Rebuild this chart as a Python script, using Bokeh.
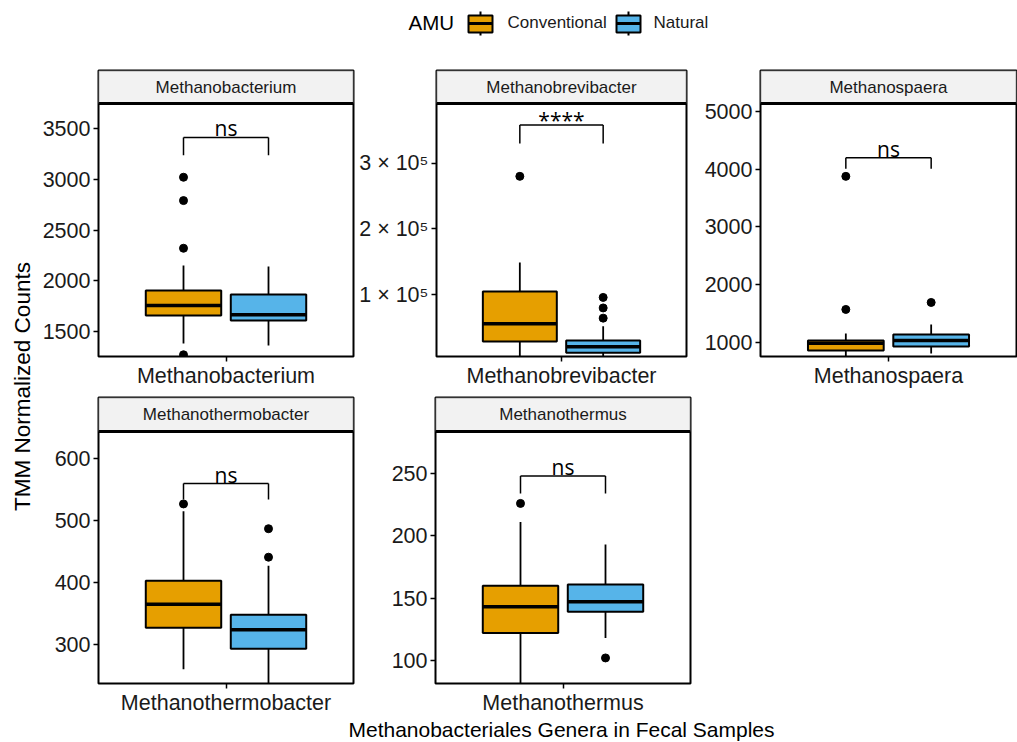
import math
from bokeh.plotting import figure
from bokeh.models import (FactorRange, Range1d, FixedTicker, BoxAnnotation, Span,
                          ColumnDataSource)
from bokeh.transform import dodge
from bokeh.layouts import column, row
from bokeh.embed import file_html
from bokeh.resources import INLINE
from bokeh.core.properties import value

# ---------------- data ----------------
genera = ["Methanobacterium", "Methanobrevibacter", "Methanospaera",
          "Methanothermobacter", "Methanothermus"]
groups = ["Conventional", "Natural"]

# box statistics: lower whisker, Q1, median, Q3, upper whisker
conv_low = [1382, 5000, 750, 260, 80]
conv_q1 = [1658, 29000, 860, 327, 122]
conv_med = [1756, 56000, 985, 365, 143]
conv_q3 = [1904, 105000, 1035, 403, 160]
conv_high = [2151, 149000, 1156, 515, 211]

nat_low = [1362, 6000, 809, 235, 118]
nat_q1 = [1608, 12000, 931, 293, 139]
nat_med = [1665, 21000, 1035, 324, 147]
nat_q3 = [1865, 30500, 1139, 348, 161]
nat_high = [2141, 52000, 1312, 427, 193]

conv_outliers = [[3020, 2790, 2320, 1270], [280000], [3877, 1572], [527], [226]]
nat_outliers = [[], [96000, 80000, 64500], [1693], [487, 441], [102]]

sig_labels = ["ns", "****", "ns", "ns", "ns"]
bracket_y = [3413, 358000, 4200, 560, 248]
bracket_leg_y = [3236, 330000, 4010, 534, 234]

y_lims = [(1253, 3747), (6200, 390700), (757, 5139), (237, 644), (81.5, 283.7)]
y_ticks = [[1500, 2000, 2500, 3000, 3500],
           [100000, 200000, 300000],
           [1000, 2000, 3000, 4000, 5000],
           [300, 400, 500, 600],
           [100, 150, 200, 250]]
y_tick_labels = [None, ["1 × 10⁵", "2 × 10⁵", "3 × 10⁵"], None, None, None]

y_title = "TMM Normalized Counts"
x_title = "Methanobacteriales Genera in Fecal Samples"
legend_title = "AMU"

# ---------------- styling ----------------
COLORS = {"Conventional": "#E69F00", "Natural": "#56B4E9"}
FONT = "Liberation Sans"
SIG_FONT = "Open Sans"
FONT_V = value(FONT)
SIG_FONT_V = value(SIG_FONT)
OFFSET = {"Conventional": -0.2, "Natural": 0.2}
BOX_W = 0.355
SIG_DY = {"ns": -9, "****": -5}
TICK_FS = "21.5px"


def blank(w, h):
    p = figure(width=w, height=h, x_range=Range1d(0, w), y_range=Range1d(0, h),
               x_axis_type=None, y_axis_type=None, title=None,
               toolbar_location=None, output_backend="svg", min_border=0)
    p.grid.visible = False
    p.outline_line_color = None
    p.background_fill_color = "white"
    p.border_fill_color = "white"
    return p


def panel(i, bl, fw, br, bt, bb, strip_px, data_px):
    lo, hi = y_lims[i]
    top = hi + (hi - lo) * strip_px / data_px
    xr = FactorRange(factors=[genera[i]], range_padding=0.1,
                     range_padding_units="absolute")
    p = figure(x_range=xr, y_range=Range1d(lo, top), frame_width=fw,
               frame_height=strip_px + data_px, min_border_left=bl,
               min_border_right=br, min_border_top=bt, min_border_bottom=bb,
               title=None, toolbar_location=None, output_backend="svg")
    p.grid.visible = False
    p.outline_line_color = "black"
    p.outline_line_width = 2
    p.outline_line_alpha = 1
    p.background_fill_color = "white"
    p.border_fill_color = "white"

    # facet strip
    p.add_layout(BoxAnnotation(bottom=hi, fill_color="#F2F2F2", fill_alpha=1,
                               line_color="black", line_width=2, level="underlay"))
    p.add_layout(Span(location=hi, dimension="width", line_color="black",
                      line_width=3))
    st = p.text(x=[genera[i]], y=[(hi + top) / 2], text=[genera[i]],
                text_align="center", text_baseline="middle",
                text_font_size="17px", text_color="#1A1A1A", text_font=FONT_V)
    st.level = "overlay"

    stats = {
        "Conventional": (conv_low[i], conv_q1[i], conv_med[i], conv_q3[i], conv_high[i], conv_outliers[i]),
        "Natural": (nat_low[i], nat_q1[i], nat_med[i], nat_q3[i], nat_high[i], nat_outliers[i]),
    }
    for g in groups:
        low, q1, med, q3, high, outs = stats[g]
        off = OFFSET[g]
        src = ColumnDataSource(dict(g=[genera[i]], low=[low], q1=[q1], med=[med],
                                    q3=[q3], high=[high]))
        xc = dodge("g", off, range=xr)
        p.segment(x0=xc, x1=xc, y0="q3", y1="high", source=src,
                  line_color="black", line_width=1.8)
        p.segment(x0=xc, x1=xc, y0="low", y1="q1", source=src,
                  line_color="black", line_width=1.8)
        p.vbar(x=xc, width=BOX_W, bottom="q1", top="q3", source=src,
               fill_color=COLORS[g], line_color="black", line_width=2)
        p.segment(x0=dodge("g", off - BOX_W / 2, range=xr),
                  x1=dodge("g", off + BOX_W / 2, range=xr),
                  y0="med", y1="med", source=src, line_color="black",
                  line_width=3.5)
        if outs:
            osrc = ColumnDataSource(dict(g=[genera[i]] * len(outs), y=outs))
            p.scatter(x=dodge("g", off, range=xr), y="y", source=osrc,
                      size=8, color="black")

    # significance bracket
    bsrc = ColumnDataSource(dict(g=[genera[i]], by=[bracket_y[i]],
                                 ly=[bracket_leg_y[i]], lab=[sig_labels[i]]))
    xa = dodge("g", OFFSET["Conventional"], range=xr)
    xb = dodge("g", OFFSET["Natural"], range=xr)
    p.segment(x0=xa, x1=xb, y0="by", y1="by", source=bsrc, line_color="black", line_width=1.5)
    p.segment(x0=xa, x1=xa, y0="ly", y1="by", source=bsrc, line_color="black", line_width=1.5)
    p.segment(x0=xb, x1=xb, y0="ly", y1="by", source=bsrc, line_color="black", line_width=1.5)
    p.text(x="g", y="by", text="lab", source=bsrc, text_align="center",
           text_baseline="middle", y_offset=SIG_DY[sig_labels[i]],
           text_font_size="21px", text_color="black", text_font=SIG_FONT_V)

    # axes
    p.yaxis.ticker = FixedTicker(ticks=y_ticks[i])
    if y_tick_labels[i]:
        p.yaxis.major_label_overrides = {t: l for t, l in zip(y_ticks[i], y_tick_labels[i])}
    for ax in (p.xaxis[0], p.yaxis[0]):
        ax.axis_line_color = None
        ax.major_tick_in = 0
        ax.major_tick_out = 5
        ax.major_tick_line_width = 1.5
        ax.major_tick_line_color = "black"
        ax.minor_tick_line_color = None
        ax.major_label_text_font = FONT
        ax.major_label_text_font_size = TICK_FS
        ax.major_label_text_color = "#1A1A1A"
    p.yaxis.major_label_standoff = 3
    p.xaxis.major_label_standoff = 2
    return p


# row 1 (page y 67..394): frame 70..356, strip 33 px, data 253 px
p1 = panel(0, 62, 255, 3, 3, 38, 33, 253)   # x 36..356
p2 = panel(1, 79, 250, 3, 3, 38, 33, 253)   # x 356..688
p3 = panel(2, 71, 256, 1, 3, 38, 33, 253)   # x 688..1016
# row 2 (page y 394..714): frame 397..683, strip 34 px, data 252 px
p4 = panel(3, 62, 255, 3, 3, 31, 34, 252)
p5 = panel(4, 79, 255, 3, 3, 31, 34, 252)

# legend row on top (page y 0..67)
LW, LH = 1016, 67
leg = blank(LW, LH)
cy = LH - 23  # centre line of the legend (page y 23)
leg.text(x=[408], y=[cy + 1], text=[legend_title], text_font=FONT_V, text_font_size="20.5px",
         text_baseline="middle", text_align="left", text_color="black")
key_x = {"Conventional": 468, "Natural": 616}
lab_x = {"Conventional": 507, "Natural": 653}
for g in groups:
    kx = key_x[g]
    leg.segment(x0=[kx + 12, kx + 12], x1=[kx + 12, kx + 12],
                y0=[cy + 12, cy - 9], y1=[cy + 8, cy - 12],
                line_color="black", line_width=2)
    leg.quad(left=[kx], right=[kx + 24], bottom=[cy - 9], top=[cy + 8],
             fill_color=COLORS[g], line_color="black", line_width=2)
    leg.segment(x0=[kx], x1=[kx + 24], y0=[cy], y1=[cy],
                line_color="black", line_width=3)
    leg.text(x=[lab_x[g]], y=[cy + 1], text=[g], text_font=FONT_V, text_font_size="17px",
             text_baseline="middle", text_align="left", text_color="#1A1A1A")

# y title (page x 0..36, y 67..741)
YW, YH = 36, 674
ylab = blank(YW, YH)
ylab.text(x=[22], y=[741 - 386], text=[y_title], angle=math.pi / 2,
          text_font=FONT_V, text_font_size="22.5px", text_align="center",
          text_baseline="middle", text_color="black")

# x title (page x 36..1016, y 714..741)
XW, XH = 980, 27
xlab = blank(XW, XH)
xlab.text(x=[561 - 36], y=[15], text=[x_title], text_font=FONT_V,
          text_font_size="21px", text_align="center", text_baseline="middle",
          text_color="black")

layout = column(leg, row(ylab, column(row(p1, p2, p3), row(p4, p5), xlab)))

open("out.html", "w").write(file_html(layout, INLINE))
